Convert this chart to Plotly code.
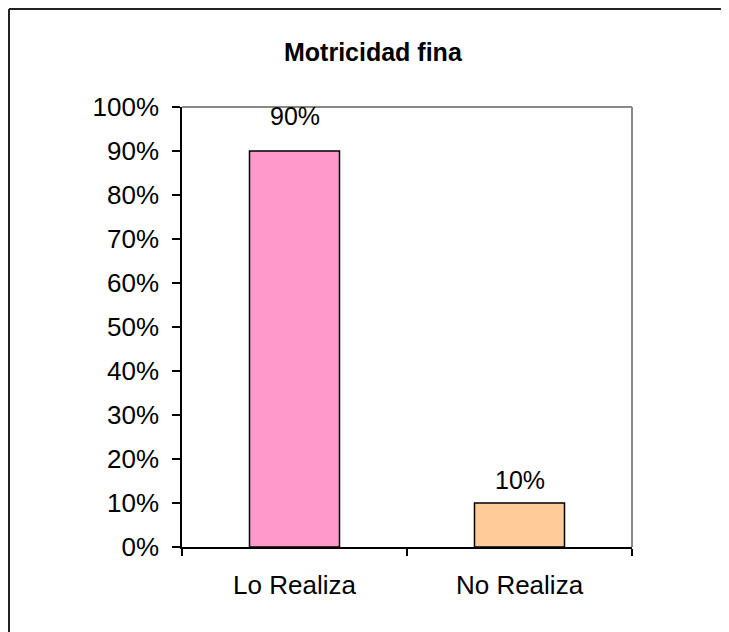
import plotly.graph_objects as go

categories = ["Lo Realiza", "No Realiza"]
values = [0.90, 0.10]
labels = ["90%", "10%"]
colors = ["#FF99CC", "#FFCC99"]
label_shift = [35, 23]
y_ticks = [0, 0.1, 0.2, 0.3, 0.4, 0.5, 0.6, 0.7, 0.8, 0.9, 1.0]
y_tick_text = ["0%", "10%", "20%", "30%", "40%", "50%", "60%", "70%", "80%", "90%", "100%"]

FONT = "Liberation Sans, Arial, sans-serif"
# page body adds an 8px offset; figure sized to fill the rest of the window
OX, OY = 8, 8
W, H = 729 - OX, 632 - OY
L, T = 182 - OX, 107 - OY
PW, PH = 450, 440
R, B = W - L - PW, H - T - PH

def px(x):  # window pixel -> paper x
    return (x - OX - L) / PW

def py(y):  # window pixel -> paper y
    return (T + PH - (y - OY)) / PH

fig = go.Figure()
fig.add_trace(go.Bar(
    x=categories, y=values, width=0.4,
    marker=dict(color=colors, line=dict(color="black", width=1.5)),
    hoverinfo="skip",
))

for c, v, t, s in zip(categories, values, labels, label_shift):
    fig.add_annotation(x=c, y=v, text=t, showarrow=False, yanchor="middle",
                       yshift=s, font=dict(family=FONT, size=25, color="black"))

fig.add_annotation(xref="paper", yref="paper", x=px(373), y=py(52), text="<b>Motricidad fina</b>",
                   showarrow=False, xanchor="center", yanchor="middle",
                   font=dict(family=FONT, size=25, color="black"))

# plot area gray border (top and right)
fig.add_shape(type="line", xref="paper", yref="paper", x0=0, x1=1, y0=1, y1=1,
              line=dict(color="#888888", width=2))
fig.add_shape(type="line", xref="paper", yref="paper", x0=1, x1=1, y0=0, y1=1,
              line=dict(color="#888888", width=2))
# outer chart border (top and left)
fig.add_shape(type="line", xref="paper", yref="paper", x0=px(9), x1=px(760), y0=py(9), y1=py(9),
              line=dict(color="#222222", width=2))
fig.add_shape(type="line", xref="paper", yref="paper", x0=px(9), x1=px(9), y0=py(9), y1=py(660),
              line=dict(color="#222222", width=2))

fig.update_layout(
    width=W, height=H,
    margin=dict(l=L, r=R, t=T, b=B, pad=0),
    paper_bgcolor="white", plot_bgcolor="white",
    showlegend=False,
    font=dict(family=FONT, color="black"),
)
fig.update_xaxes(
    showline=True, linecolor="black", linewidth=1.5, mirror=False,
    ticks="outside", ticklen=7, tickcolor="black", tickwidth=1.5, tickson="boundaries",
    tickfont=dict(size=26, family=FONT, color="black"),
    ticklabelstandoff=14, showgrid=False, zeroline=False,
)
fig.update_yaxes(
    range=[0, 1.0], tickvals=y_ticks, ticktext=y_tick_text,
    showline=True, linecolor="black", linewidth=1.5,
    ticks="outside", ticklen=8, tickcolor="black", tickwidth=1.5,
    tickfont=dict(size=26, family=FONT, color="black"),
    ticklabelstandoff=8, showgrid=False, zeroline=False,
)

fig.write_html("out.html")
